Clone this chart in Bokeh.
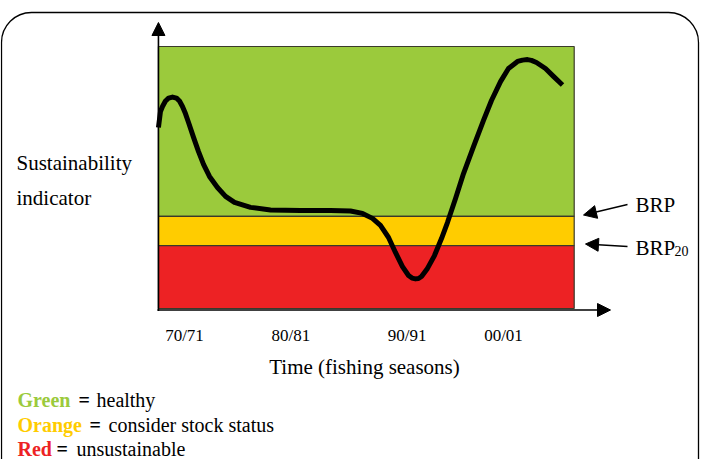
from bokeh.plotting import figure
from bokeh.models import Range1d, Arrow, NormalHead, BoxAnnotation
from bokeh.core.properties import value
from bokeh.embed import file_html
from bokeh.resources import INLINE

# ---------------- data ----------------
season_labels = ["70/71", "80/81", "90/91", "00/01"]
season_years = [1970, 1980, 1990, 2000]

curve_years = [1967.55, 1967.74, 1967.93, 1968.21, 1968.50, 1968.87, 1969.25, 1969.53,
               1969.81, 1970.09, 1970.38, 1970.85,
               1971.32, 1971.79, 1972.35, 1973.10, 1973.86, 1974.70, 1976.21, 1978.09,
               1980.91, 1983.73, 1985.61, 1986.74, 1987.68, 1988.43, 1989.19, 1989.84,
               1990.50, 1991.07, 1991.40, 1991.73, 1992.01, 1992.29, 1992.85, 1993.51,
               1994.17, 1994.73,
               1995.49, 1996.24, 1997.18, 1998.12, 1998.87, 1999.72, 2000.47, 2001.32,
               2001.79, 2002.26, 2002.63, 2003.10, 2003.95, 2004.70, 2005.55]
curve_values = [69.1, 75.2, 77.1, 79.2, 80.3, 80.7, 80.3, 79.2,
                77.1, 74.4, 71.0, 65.3,
                59.9, 55.0, 50.4, 46.2, 42.8, 40.5, 38.6, 37.6,
                37.4, 37.4, 37.2, 36.3, 34.4, 31.7, 27.1, 21.4,
                16.0, 12.6, 11.6, 11.3, 11.45, 12.2, 15.3, 20.2,
                26.7, 32.8,
                42.0, 51.5, 61.8, 71.8, 79.4, 86.6, 91.6, 94.3,
                94.8, 95.0, 94.7, 93.9, 91.6, 88.6, 85.3]

brp = 35.2
brp20 = 24.0
indicator_top = 100.0
period_start = 1967.55
period_end = 2006.65

zone_names = ["Green", "Orange", "Red"]
zone_meanings = ["healthy", "consider stock status", "unsustainable"]
zone_colors = ["#9BCA3C", "#FFCC00", "#ED2224"]

# ---------------- layout ----------------
W, H = 703, 459
PAGE = 0
PX1970 = 184.0
PX_PER_YEAR = 10.633
PY0 = 308.0
PY_PER_UNIT = 2.62
TEXT_DY = 6.5   # rendered baseline sits this many px lower than asked


def fx(px):
    return 1970 + (px - PX1970) / PX_PER_YEAR


def fy(py):
    return (PY0 - py) / PY_PER_UNIT


def ft(py):
    return fy(py - TEXT_DY)


SERIF = value("Liberation Serif")

p = figure(width=W, height=H, output_backend="svg", toolbar_location=None,
           x_range=Range1d(fx(PAGE), fx(PAGE + W)),
           y_range=Range1d(fy(PAGE + H), fy(PAGE)),
           min_border=0, outline_line_color=None)
p.axis.visible = False
p.grid.visible = False
p.background_fill_color = "white"
p.border_fill_color = "white"

# rounded frame
p.add_layout(BoxAnnotation(left=fx(1), right=fx(698), top=fy(12), bottom=fy(560),
                           fill_color=None, fill_alpha=0, line_color="black",
                           line_alpha=1.0, line_width=1.3, border_radius=30))

# zones
p.quad(left=[period_start] * 3, right=[period_end] * 3,
       bottom=[brp, brp20, 0], top=[indicator_top, brp, brp20],
       fill_color=zone_colors, line_color="#3a3a2a", line_width=1.2)

# curve
p.line(curve_years, curve_values, line_width=5, line_color="black",
       line_join="round", line_cap="butt")

# axes with arrows
p.add_layout(Arrow(x_start=period_start, y_start=fy(310.5), x_end=period_start, y_end=fy(22),
                   end=NormalHead(size=13, fill_color="black", line_color="black"),
                   line_width=1.6, line_color="black"))
p.add_layout(Arrow(x_start=fx(157), y_start=fy(309.5), x_end=fx(610), y_end=fy(309.5),
                   end=NormalHead(size=13, fill_color="black", line_color="black"),
                   line_width=1.6, line_color="black"))

# BRP arrows
p.add_layout(Arrow(x_start=fx(627), y_start=fy(204), x_end=fx(583), y_end=fy(214.5),
                   end=NormalHead(size=13, fill_color="black", line_color="black"),
                   line_width=1.3, line_color="black"))
p.add_layout(Arrow(x_start=fx(627), y_start=fy(246), x_end=fx(585), y_end=fy(243.5),
                   end=NormalHead(size=13, fill_color="black", line_color="black"),
                   line_width=1.3, line_color="black"))

# texts
p.text(x=[fx(635)], y=[ft(211)], text=["BRP"], text_font=SERIF, text_font_size="21px",
       text_baseline="alphabetic", text_align="left", text_color="black")
p.text(x=[fx(635)], y=[ft(254)], text=["BRP"], text_font=SERIF, text_font_size="21px",
       text_baseline="alphabetic", text_align="left", text_color="black")
p.text(x=[fx(674)], y=[ft(257)], text=["20"], text_font=SERIF, text_font_size="14px",
       text_baseline="alphabetic", text_align="left", text_color="black")

p.text(x=[fx(16), fx(16)], y=[ft(168.5), ft(204)], text=["Sustainability", "indicator"],
       text_font=SERIF, text_font_size="21px", text_baseline="alphabetic",
       text_align="left", text_color="black")

p.text(x=season_years, y=[ft(341)] * len(season_years), text=season_labels,
       x_offset=[0, 0, 10, 0],
       text_font=SERIF, text_font_size="17px", text_baseline="alphabetic",
       text_align="center", text_color="black")

p.text(x=[fx(364)], y=[ft(372.5)], text=["Time (fishing seasons)"],
       text_font=SERIF, text_font_size="21px", text_baseline="alphabetic",
       text_align="center", text_color="black")

# legend lines
leg_base = [406, 431, 454.5]
eq_px = [78, 89, 56]
desc_px = [96, 108, 76]
p.text(x=[fx(17)] * 3, y=[ft(b) for b in leg_base], text=zone_names,
       text_color=zone_colors, text_font=SERIF, text_font_size="20px",
       text_font_style="bold", text_baseline="alphabetic", text_align="left")
p.text(x=[fx(v) for v in eq_px], y=[ft(b) for b in leg_base], text=["="] * 3,
       text_color="black", text_font=SERIF, text_font_size="20px",
       text_font_style="bold", text_baseline="alphabetic", text_align="left")
p.text(x=[fx(v) for v in desc_px], y=[ft(b) for b in leg_base], text=zone_meanings,
       text_color="black", text_font=SERIF, text_font_size="20px",
       text_baseline="alphabetic", text_align="left")

open("out.html", "w").write(file_html(p, INLINE))
